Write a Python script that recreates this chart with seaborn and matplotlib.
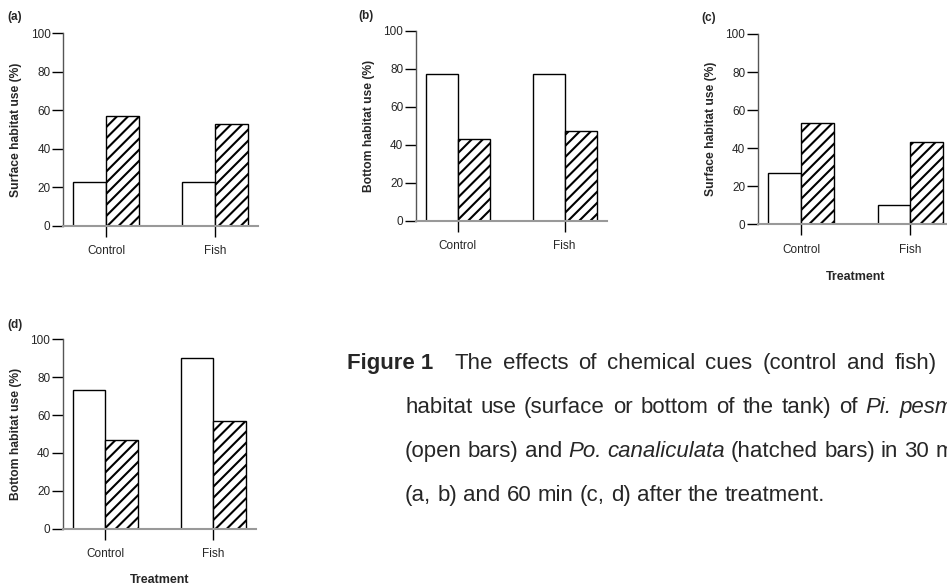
import matplotlib
matplotlib.use('Agg')
import matplotlib.pyplot as plt
import pandas as pd
import seaborn as sns

# Treatment groups and habitat use (%)
categories = ['Control', 'Fish']
species = ['Pi. pesmei', 'Po. canaliculata']

a_open = [23, 23]
a_hatched = [57, 53]
b_open = [77, 77]
b_hatched = [43, 47]
c_open = [27, 10]
c_hatched = [53, 43]
d_open = [73, 90]
d_hatched = [47, 57]

y_ticks = [0, 20, 40, 60, 80, 100]

sns.set_style('ticks')
plt.rcParams['font.family'] = ['Liberation Sans', 'DejaVu Sans']
plt.rcParams['hatch.linewidth'] = 1.5
plt.rcParams['hatch.color'] = 'black'

W, H = 947, 588
fig = plt.figure(figsize=(W / 100, H / 100), dpi=100)


def make_df(open_vals, hatched_vals):
    rows = []
    for cat, v in zip(categories, open_vals):
        rows.append({'Treatment': cat, 'Species': species[0], 'Use': v})
    for cat, v in zip(categories, hatched_vals):
        rows.append({'Treatment': cat, 'Species': species[1], 'Use': v})
    return pd.DataFrame(rows)


def panel(rect_px, open_vals, hatched_vals, ylabel, letter, letter_xy, xlabel=None, xlab_off=47):
    left, top, right, bottom = rect_px
    ax = fig.add_axes([left / W, 1 - bottom / H, (right - left) / W, (bottom - top) / H])
    df = make_df(open_vals, hatched_vals)
    sns.barplot(data=df, x='Treatment', y='Use', hue='Species',
                palette=['white', 'white'], edgecolor='black', linewidth=1,
                width=0.6, ax=ax, legend=False, saturation=1)
    for bar in ax.containers[1]:
        bar.set_hatch('///')
    ax.set_xlim(-0.395, 1.395)
    ax.set_ylim(0, 100)
    ax.set_yticks(y_ticks)
    ax.set_yticklabels([str(t) for t in y_ticks])
    ax.tick_params(axis='y', direction='out', length=8, width=1, color='black',
                   pad=1, labelsize=8.5)
    ax.tick_params(axis='x', direction='out', length=8, width=1, color='black',
                   pad=6, labelsize=8.5)
    for s in ['top', 'right']:
        ax.spines[s].set_visible(False)
    ax.spines['left'].set_color('#555555')
    ax.spines['left'].set_linewidth(1)
    ax.spines['bottom'].set_color('#999999')
    ax.spines['bottom'].set_linewidth(1.5)
    ax.set_ylabel(ylabel, fontsize=8.7, fontweight='bold')
    ax.yaxis.set_label_coords(-41 / (right - left), 0.5)
    if xlabel:
        ax.set_xlabel(xlabel, fontsize=9, fontweight='bold')
        ax.xaxis.set_label_coords(0.5, -xlab_off / (bottom - top))
    else:
        ax.set_xlabel('')
    fig.text(letter_xy[0] / W, 1 - letter_xy[1] / H, letter, fontsize=8.5,
             fontweight='bold', ha='left', va='center')
    return ax


panel((63, 33, 258, 226), a_open, a_hatched, 'Surface habitat use (%)', '(a)', (7, 17))
panel((415.7, 30.7, 606.7, 220.7), b_open, b_hatched, 'Bottom habitat use (%)', '(b)', (358, 15.5))
panel((757.7, 34, 953.7, 224.3), c_open, c_hatched, 'Surface habitat use (%)', '(c)', (701, 18),
      xlabel='Treatment', xlab_off=47)
panel((62.7, 339.3, 256, 528.7), d_open, d_hatched, 'Bottom habitat use (%)', '(d)', (7, 325),
      xlabel='Treatment', xlab_off=45)

# Caption, justified to a right margin beyond the cropped edge
cap_size = 16
fig.canvas.draw()
renderer = fig.canvas.get_renderer()


def place_line(words, x0, y, right=None, bold=False):
    items = []
    for w in words:
        style = 'italic' if w.startswith('*') else 'normal'
        t = fig.text(0, 1 - y / H, w.strip('*'), fontsize=cap_size, style=style,
                     fontweight='bold' if bold else 'normal', ha='left', va='baseline')
        items.append((t, t.get_window_extent(renderer).width))
    total = sum(wd for _, wd in items)
    if right is None or len(items) < 2:
        gap = 6.2
    else:
        gap = (right - x0 - total) / (len(items) - 1)
    x = x0
    for t, wd in items:
        t.set_x(x / W)
        x += wd + gap


R = 971
place_line(['Figure 1'], 347, 369, bold=True)
place_line('The effects of chemical cues (control and fish) on'.split(), 454, 369, right=R)
place_line('habitat use (surface or bottom of the tank) of *Pi. *pesmei'.split(), 405, 413, right=R)
place_line('(open bars) and *Po. *canaliculata (hatched bars) in 30 min'.split(), 405, 457, right=R)
place_line('(a, b) and 60 min (c, d) after the treatment.'.split(), 405, 501)

fig.savefig('out.png', dpi=100)
